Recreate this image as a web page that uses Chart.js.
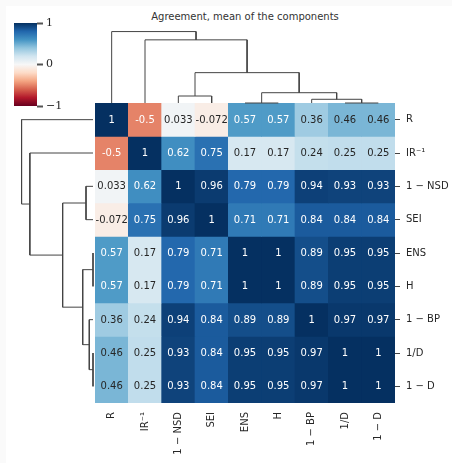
<!DOCTYPE html>
<html>
<head>
<meta charset="utf-8">
<script src="https://cdn.jsdelivr.net/npm/chart.js@4.4.1/dist/chart.umd.min.js"></script>
<style>
  html, body { margin: 0; padding: 0; background: #fafafa; }
  #page { position: absolute; left: 6px; top: 6px; width: 446px; height: 457px; background: #fff; }
  canvas { position: absolute; }
  #title { position: absolute; left: 95px; top: 11px; width: 300px; text-align: center;
           font: 10px "DejaVu Sans"; color: #333; }
</style>
</head>
<body>
<div id="page"></div>
<div id="title">Agreement, mean of the components</div>
<canvas id="heat" width="357" height="360" style="left:95px;top:103px"></canvas>
<canvas id="top" width="300" height="77" style="left:95px;top:28px"></canvas>
<canvas id="left" width="79" height="300" style="left:16px;top:103px"></canvas>
<canvas id="cbar" width="56" height="99" style="left:14px;top:15px"></canvas>
<script>
// leaf order as shown by the clustermap
const labels = ["R", "IR⁻¹", "1 − NSD", "SEI", "ENS", "H", "1 − BP", "1/D", "1 − D"];

// correlation matrix, rows/cols in the order above
const values = [
  [1, -0.5, 0.033, -0.072, 0.57, 0.57, 0.36, 0.46, 0.46],
  [-0.5, 1, 0.62, 0.75, 0.17, 0.17, 0.24, 0.25, 0.25],
  [0.033, 0.62, 1, 0.96, 0.79, 0.79, 0.94, 0.93, 0.93],
  [-0.072, 0.75, 0.96, 1, 0.71, 0.71, 0.84, 0.84, 0.84],
  [0.57, 0.17, 0.79, 0.71, 1, 1, 0.89, 0.95, 0.95],
  [0.57, 0.17, 0.79, 0.71, 1, 1, 0.89, 0.95, 0.95],
  [0.36, 0.24, 0.94, 0.84, 0.89, 0.89, 1, 0.97, 0.97],
  [0.46, 0.25, 0.93, 0.84, 0.95, 0.95, 0.97, 1, 1],
  [0.46, 0.25, 0.93, 0.84, 0.95, 0.95, 0.97, 1, 1],
];

// linkage: [child a, child b, height]; new clusters get ids 9, 10, ...
const merges = [
  [4, 5, 0],
  [7, 8, 0],
  [6, 10, 0.052],
  [2, 3, 0.098],
  [9, 11, 0.144],
  [12, 13, 0.425],
  [1, 14, 0.884],
  [0, 15, 1.0],
];

const cbarTicks = [-1, 0, 1];

// RdBu colormap stops (low -> high)
const rdbu = ["#67001f", "#b2182b", "#d6604d", "#f4a582", "#fddbc7", "#f7f7f7",
              "#d1e5f0", "#92c5de", "#4393c3", "#2166ac", "#053061"];

function hexRgb(h) {
  return [1, 3, 5].map((i) => parseInt(h.slice(i, i + 2), 16));
}
function cmapRgb(v) {
  const t = Math.min(1, Math.max(0, (v + 1) / 2)) * (rdbu.length - 1);
  const i = Math.min(Math.floor(t), rdbu.length - 2);
  const f = t - i;
  const a = hexRgb(rdbu[i]), b = hexRgb(rdbu[i + 1]);
  return a.map((x, k) => x + (b[k] - x) * f);
}
function cmap(v) {
  const [r, g, b] = cmapRgb(v);
  return `rgb(${r},${g},${b})`;
}
function textColor(v) {
  const lin = cmapRgb(v).map((c) => {
    c /= 255;
    return c <= 0.03928 ? c / 12.92 : Math.pow((c + 0.055) / 1.055, 2.4);
  });
  const lum = 0.2126 * lin[0] + 0.7152 * lin[1] + 0.0722 * lin[2];
  return lum > 0.408 ? "#262626" : "#ffffff";
}
const fmt = (v) => String(Number(v.toPrecision(2)));

const labelFont = { family: "DejaVu Sans", size: 10 };
const base = {
  responsive: false,
  animation: false,
  events: [],
  plugins: { legend: { display: false }, tooltip: { enabled: false } },
};
const noPad = (s) => {
  s.paddingTop = 0; s.paddingBottom = 0; s.paddingLeft = 0; s.paddingRight = 0;
};

// ---- heatmap ----
const cellText = {
  id: "cellText",
  afterDatasetsDraw(chart) {
    const { ctx, scales: { x, y } } = chart;
    ctx.save();
    ctx.font = '10px "DejaVu Sans"';
    ctx.textAlign = "center";
    ctx.textBaseline = "middle";
    values.forEach((row, r) =>
      row.forEach((v, c) => {
        ctx.fillStyle = textColor(v);
        ctx.fillText(fmt(v), x.getPixelForValue(c), y.getPixelForValue(r + 0.5) + 0.5);
      })
    );
    ctx.restore();
  },
};

new Chart(document.getElementById("heat"), {
  type: "bar",
  data: {
    labels: labels,
    datasets: values.map((row) => ({
      data: row.map(() => 1),
      backgroundColor: row.map(cmap),
      borderWidth: 0,
      barPercentage: 1,
      categoryPercentage: 1,
    })),
  },
  options: {
    ...base,
    layout: { padding: 0 },
    scales: {
      x: {
        stacked: true,
        grid: { display: false, drawTicks: false },
        border: { display: false },
        ticks: { autoSkip: false, minRotation: 90, maxRotation: 90, padding: 9,
                 color: "#262626", font: labelFont },
        afterFit: (s) => { s.height = 60; noPad(s); },
      },
      y: {
        stacked: true,
        position: "right",
        reverse: true,
        min: 0,
        max: 9,
        afterBuildTicks: (s) => { s.ticks = labels.map((_, i) => ({ value: i + 0.5 })); },
        ticks: { autoSkip: false, callback: (v, i) => labels[i], padding: 6,
                 color: "#262626", font: labelFont },
        grid: { drawOnChartArea: false, tickLength: 5, tickColor: "#444" },
        border: { display: false },
        afterFit: (s) => { s.width = 57; noPad(s); },
      },
    },
  },
  plugins: [cellText],
});

// ---- dendrograms ----
function dendroLinks(n) {
  const pos = [], hgt = [];
  for (let i = 0; i < n; i++) { pos[i] = i + 0.5; hgt[i] = 0; }
  return merges.map(([a, b, h], k) => {
    pos[n + k] = (pos[a] + pos[b]) / 2;
    hgt[n + k] = h;
    return [[pos[a], hgt[a]], [pos[a], h], [pos[b], h], [pos[b], hgt[b]]];
  });
}
const links = dendroLinks(labels.length);
const hMax = Math.max(...merges.map((m) => m[2])) * 1.05;
const lineStyle = { showLine: true, pointRadius: 0, borderColor: "#444", borderWidth: 1,
                    tension: 0, clip: false };

new Chart(document.getElementById("top"), {
  type: "scatter",
  data: { datasets: links.map((l) => ({ ...lineStyle, data: l.map(([p, h]) => ({ x: p, y: h })) })) },
  options: {
    ...base,
    layout: { padding: { bottom: 2 } },
    scales: {
      x: { type: "linear", min: 0, max: labels.length, display: false },
      y: { type: "linear", min: 0, max: hMax, display: false },
    },
  },
});

new Chart(document.getElementById("left"), {
  type: "scatter",
  data: { datasets: links.map((l) => ({ ...lineStyle, data: l.map(([p, h]) => ({ x: h, y: p })) })) },
  options: {
    ...base,
    layout: { padding: { left: 2, right: 2 } },
    scales: {
      x: { type: "linear", min: 0, max: hMax, reverse: true, display: false },
      y: { type: "linear", min: 0, max: labels.length, reverse: true, display: false },
    },
  },
});

// ---- colorbar ----
function gradientFill(c) {
  const chart = c.chart;
  if (!chart.chartArea) return "transparent";
  const ys = chart.scales.y;
  const g = chart.ctx.createLinearGradient(0, ys.getPixelForValue(-1), 0, ys.getPixelForValue(1));
  rdbu.forEach((col, i) => g.addColorStop(i / (rdbu.length - 1), col));
  return g;
}

new Chart(document.getElementById("cbar"), {
  type: "bar",
  data: {
    labels: [""],
    datasets: [{ data: [[-1, 1]], backgroundColor: gradientFill, borderWidth: 0,
                 barPercentage: 1, categoryPercentage: 1 }],
  },
  options: {
    ...base,
    layout: { padding: { top: 8, bottom: 8 } },
    scales: {
      x: { display: false },
      y: {
        position: "right",
        min: -1,
        max: 1,
        afterBuildTicks: (s) => { s.ticks = cbarTicks.map((v) => ({ value: v })); },
        ticks: { callback: (v) => (v < 0 ? "−" + Math.abs(v) : String(v)), padding: 3,
                 color: "#262626", font: { family: "DejaVu Serif", size: 11 } },
        grid: { drawOnChartArea: false, tickLength: 6, tickWidth: 2, tickColor: "#555" },
        border: { display: false },
        afterFit: (s) => { s.width = 33; noPad(s); },
      },
    },
  },
});
</script>
</body>
</html>
